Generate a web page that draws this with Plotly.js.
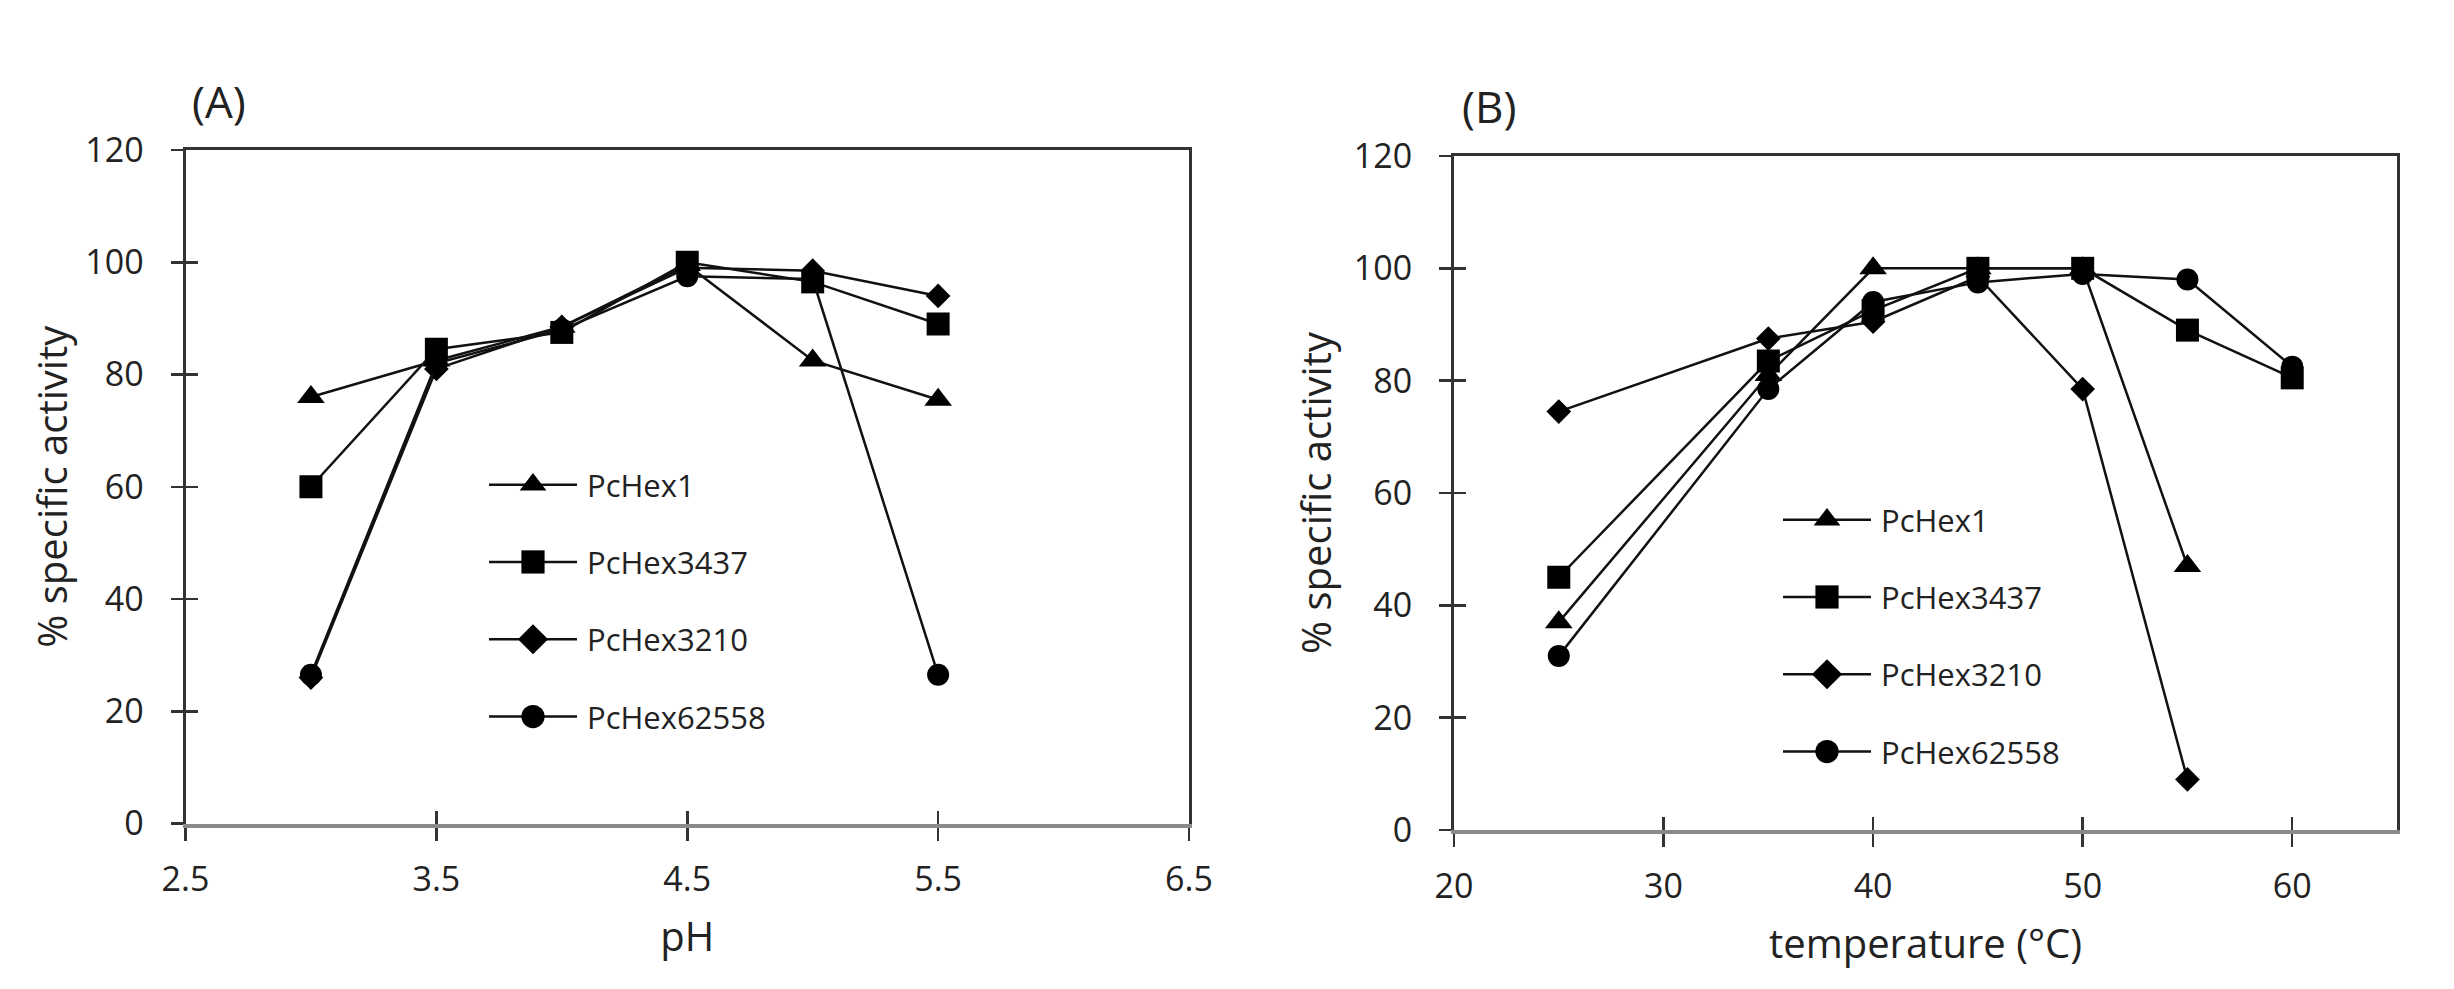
<!DOCTYPE html>
<html>
<head>
<meta charset="utf-8">
<script src="https://cdn.plot.ly/plotly-3.0.1.min.js"></script>
<style>
  html, body { margin: 0; padding: 0; background: #fff; }
  #chart { width: 2454px; height: 989px; }
</style>
</head>
<body>
<div id="chart"></div>
<script>
// ---------- data ----------
const seriesNames = ["PcHex1", "PcHex3437", "PcHex3210", "PcHex62558"];
const seriesSymbols = ["triangle-up", "square", "diamond", "circle"];

// Panel (A): pH
const pH = [3, 3.5, 4, 4.5, 5, 5.5];
const pH_PcHex1     = [76, 82.5, 88.5, 99.5, 82.5, 75.5];
const pH_PcHex3437  = [60, 84.5, 87.5, 100, 96.5, 89];
const pH_PcHex3210  = [26, 81, 88.5, 99, 98.5, 94];
const pH_PcHex62558 = [26.5, 82, 88, 97.5, 97, 26.5];

// Panel (B): temperature (°C)
const temperature = [25, 35, 40, 45, 50, 55, 60];
const temp_PcHex1     = [37, 81, 100, 100, 100, 47, null];
const temp_PcHex3437  = [45, 83.5, 92.5, 100, 100, 89, 80.5];
const temp_PcHex3210  = [74.5, 87.5, 90.5, 98.5, 78.5, 9, null];
const temp_PcHex62558 = [31, 78.5, 94, 97.5, 99, 98, 82.5];

const pHTicks = [2.5, 3.5, 4.5, 5.5, 6.5];
const tempTicks = [20, 30, 40, 50, 60];
const yTicks = [0, 20, 40, 60, 80, 100, 120];

// ---------- styles ----------
const FONT = "Open Sans, Noto Sans, sans-serif";
const TXT = "#222";
const markerSizes = {"triangle-up": 24, "square": 23, "diamond": 19, "circle": 22};

const pHSeries = [pH_PcHex1, pH_PcHex3437, pH_PcHex3210, pH_PcHex62558];
const tempSeries = [temp_PcHex1, temp_PcHex3437, temp_PcHex3210, temp_PcHex62558];

const traces = [];
seriesNames.forEach((name, i) => {
  traces.push({
    type: "scatter", mode: "lines+markers", name: name,
    x: pH, y: pHSeries[i], xaxis: "x", yaxis: "y",
    legend: "legend", legendgroup: "a" + i,
    line: {color: "#111", width: 2.5},
    marker: {symbol: seriesSymbols[i], size: markerSizes[seriesSymbols[i]], color: "#000"},
    cliponaxis: false
  });
});
seriesNames.forEach((name, i) => {
  traces.push({
    type: "scatter", mode: "lines+markers", name: name,
    x: temperature, y: tempSeries[i], xaxis: "x2", yaxis: "y2",
    legend: "legend2", legendgroup: "b" + i,
    line: {color: "#111", width: 2.5},
    marker: {symbol: seriesSymbols[i], size: markerSizes[seriesSymbols[i]], color: "#000"},
    connectgaps: false,
    cliponaxis: false
  });
});
// empty helper traces so that the overlay (tick / frame) axes get drawn
[["x3", "y"], ["x5", "y"], ["x", "y3"], ["x4", "y2"], ["x6", "y2"], ["x2", "y4"]].forEach(p => {
  traces.push({type: "scatter", mode: "markers", x: [], y: [], xaxis: p[0], yaxis: p[1],
               showlegend: false, hoverinfo: "skip"});
});

const W = 2454, H = 989;
const domA = [185.5 / W, 1189 / W];
const domB = [1454 / W, 2397 / W];
const domAy = [1 - 823.5 / H, 1 - 150 / H];
const domBy = [1 - 830 / H, 1 - 156 / H];

function mainX(dom, anchor, range, ticks, title) {
  return {
    domain: dom, anchor: anchor, range: range,
    tickmode: "array", tickvals: ticks, ticktext: ticks.map(String),
    ticks: "outside", ticklen: 13, tickwidth: 2.5, tickcolor: "#333",
    showline: true, linecolor: "#8a8a8a", linewidth: 4,
    showgrid: false, zeroline: false, fixedrange: true,
    ticklabelstandoff: 10,
    tickfont: {family: FONT, size: 34, color: TXT},
    title: {text: title, font: {family: FONT, size: 40, color: TXT}, standoff: 24}
  };
}
function innerX(overlay, anchor, range, ticks) {
  return {
    overlaying: overlay, anchor: anchor, range: range, side: "bottom",
    tickmode: "array", tickvals: ticks,
    ticks: "inside", ticklen: 13, tickwidth: 2.5, tickcolor: "#333",
    showticklabels: false, showline: false, showgrid: false, zeroline: false, fixedrange: true
  };
}
function topX(overlay, anchor, range) {
  return {
    overlaying: overlay, anchor: anchor, range: range, side: "top",
    ticks: "", showticklabels: false, showline: true, linecolor: "#333", linewidth: 3,
    showgrid: false, zeroline: false, fixedrange: true
  };
}
function mainY(dom, anchor, standoff) {
  return {
    domain: dom, anchor: anchor, range: [0, 120],
    tickmode: "array", tickvals: yTicks, ticktext: yTicks.map(String),
    ticks: "outside", ticklen: 12, tickwidth: 2.5, tickcolor: "#333",
    showline: true, linecolor: "#333", linewidth: 3, mirror: true,
    showgrid: false, zeroline: false, fixedrange: true,
    ticklabelstandoff: 20,
    tickfont: {family: FONT, size: 34, color: TXT},
    title: {text: "% specific activity", font: {family: FONT, size: 40, color: TXT}, standoff: standoff}
  };
}
function innerY(overlay, anchor) {
  return {
    overlaying: overlay, anchor: anchor, range: [0, 120], side: "left",
    tickmode: "array", tickvals: yTicks,
    ticks: "inside", ticklen: 12, tickwidth: 2.5, tickcolor: "#333",
    showticklabels: false, showline: false, showgrid: false, zeroline: false, fixedrange: true
  };
}

const ITEMW = 93;
const legendCommon = {
  xanchor: "left", yanchor: "top", bgcolor: "rgba(0,0,0,0)",
  font: {family: FONT, size: 31, color: TXT},
  itemwidth: ITEMW, itemsizing: "trace",
  tracegroupgap: 34, traceorder: "grouped", itemclick: false, itemdoubleclick: false
};

const layout = {
  width: W, height: H,
  margin: {l: 0, r: 0, t: 0, b: 0},
  paper_bgcolor: "#fff", plot_bgcolor: "#fff",
  showlegend: true,
  xaxis: mainX(domA, "y", [2.5, 6.5], pHTicks, "pH"),
  yaxis: mainY(domAy, "x", 6),
  xaxis2: mainX(domB, "y2", [20, 65], tempTicks, "temperature (°C)"),
  yaxis2: mainY(domBy, "x2", 10),
  xaxis3: innerX("x", "y", [2.5, 6.5], pHTicks),
  xaxis4: innerX("x2", "y2", [20, 65], tempTicks),
  xaxis5: topX("x", "y", [2.5, 6.5]),
  xaxis6: topX("x2", "y2", [20, 65]),
  yaxis3: innerY("y", "x"),
  yaxis4: innerY("y2", "x2"),
  legend: Object.assign({}, legendCommon, {x: 484 / W, y: 1 - 458 / H}),
  legend2: Object.assign({}, legendCommon, {x: 1778 / W, y: 1 - 493 / H}),
  annotations: [
    {text: "(A)", xref: "paper", yref: "paper", x: 219 / W, y: 1 - 101 / H,
     xanchor: "center", yanchor: "middle", showarrow: false,
     font: {family: FONT, size: 44, color: TXT}},
    {text: "(B)", xref: "paper", yref: "paper", x: 1489 / W, y: 1 - 106 / H,
     xanchor: "center", yanchor: "middle", showarrow: false,
     font: {family: FONT, size: 44, color: TXT}}
  ]
};

Plotly.newPlot("chart", traces, layout, {displayModeBar: false, staticPlot: true}).then(gd => {
  // Excel-style legend keys: longer line with the (larger) marker centred on it
  const root = document.getElementById("chart");
  root.querySelectorAll(".legendlines path").forEach(p => {
    p.setAttribute("d", "M5,0h" + (ITEMW - 5));
  });
  root.querySelectorAll(".legendpoints path.scatterpts").forEach(p => {
    p.setAttribute("transform", "translate(" + ((ITEMW + 5) / 2) + ",0) scale(1.45)");
  });
});
</script>
</body>
</html>
